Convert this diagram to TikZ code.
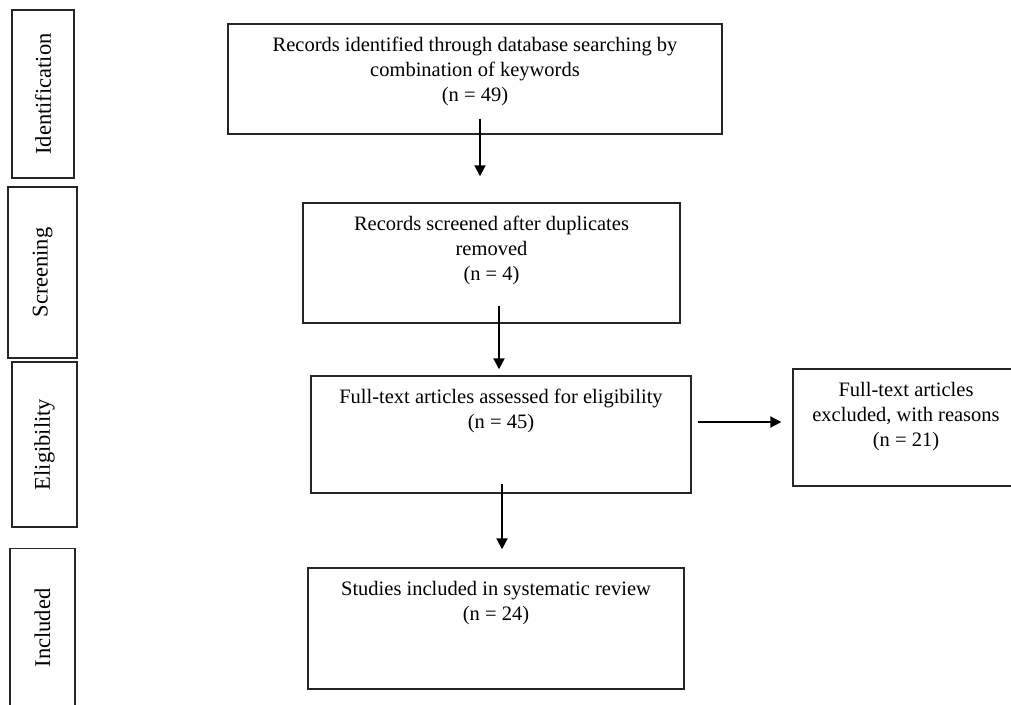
\documentclass[tikz,border=0pt]{standalone}
\usepackage{fontspec}
\setmainfont{Liberation Serif}
\usetikzlibrary{arrows.meta,calc}
\tikzset{
  box/.style={draw=black!85, line width=1.4pt, rectangle, inner sep=0pt, fill=none},
  txt/.style={align=center, inner sep=0pt, anchor=north, font=\fontsize{20.5}{25}\selectfont},
  side/.style={draw=black!85, line width=1.4pt, rectangle, inner sep=0pt},
  sidetxt/.style={rotate=90, inner sep=0pt, font=\fontsize{22.5}{27}\selectfont},
  arr/.style={line width=2pt, -{Triangle[width=11pt,length=11pt]}},
}
\begin{document}
\begin{tikzpicture}[x=1pt,y=-1pt]
\useasboundingbox (0,0) rectangle (1011,704);
% stage labels
\node[side, minimum width=62pt, minimum height=168pt] (l1) at (43,94) {};
\node[sidetxt] at (l1.center) {Identification};
\node[side, minimum width=69pt, minimum height=171pt] (l2) at (42.5,272.5) {};
\node[sidetxt] at (l2.center) {Screening};
\node[side, minimum width=65pt, minimum height=165pt] (l3) at (44.5,444.5) {};
\node[sidetxt] at (l3.center) {Eligibility};
\node[side, minimum width=65pt, minimum height=163pt] (l4) at (42.5,630) {};
\node[sidetxt] at ([yshift=2pt]l4.center) {Included};
% main boxes
\node[box, minimum width=494pt, minimum height=110pt] (b1) at (475,79) {};
\node[txt] (t1) at ([yshift=-10.5pt]b1.north) {\strut Records identified through database searching by\\combination of keywords\\(n = 49)};
\node[box, minimum width=377pt, minimum height=120pt] (b2) at (491.5,263) {};
\node[txt] (t2) at ([yshift=-10.5pt]b2.north) {\strut Records screened after duplicates\\removed\\(n = 4)};
\node[box, minimum width=380pt, minimum height=117pt] (b3) at (501,434.5) {};
\node[txt] (t3) at ([yshift=-10.5pt]b3.north) {\strut Full-text articles assessed for eligibility\\(n = 45)};
\node[box, minimum width=376pt, minimum height=121pt] (b4) at (496,628.5) {};
\node[txt] (t4) at ([yshift=-10.5pt]b4.north) {\strut Studies included in systematic review\\(n = 24)};
\node[box, minimum width=226pt, minimum height=117pt] (b5) at (906,427.5) {};
\node[txt] (t5) at ([yshift=-10.5pt]b5.north) {\strut Full-text articles\\excluded, with reasons\\(n = 21)};
% connectors
\draw[arr] ([xshift=5pt,yshift=16pt]b1.south) -- ([xshift=-11.5pt,yshift=26pt]b2.north);
\draw[arr] ([xshift=7.5pt,yshift=18pt]b2.south) -- ([xshift=-2pt,yshift=6pt]b3.north);
\draw[arr] ([xshift=1pt,yshift=10pt]b3.south) -- ([xshift=6pt,yshift=18pt]b4.north);
\draw[arr] ([xshift=6pt,yshift=12.5pt]b3.east) -- ([xshift=-11pt,yshift=5.5pt]b5.west);
\end{tikzpicture}
\end{document}
